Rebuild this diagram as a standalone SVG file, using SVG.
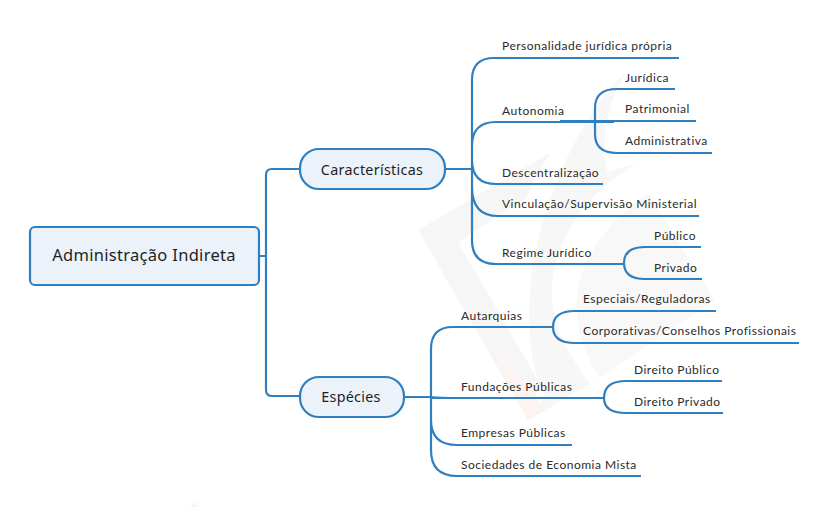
<svg xmlns="http://www.w3.org/2000/svg" width="830" height="507" viewBox="0 0 830 507">
<style>
text{font-family:"Noto Sans","Open Sans",sans-serif;fill:#1f1f1f}
.t{font-family:Lato,"Noto Sans",sans-serif;font-size:12px;letter-spacing:.49px;fill:#2a2a2a}
.c{fill:none;stroke:#2f7fc1;stroke-width:2.200}
.n{fill:#ebf2f9;stroke:#2f7fc1;stroke-width:2.200}
.u{stroke:#2f7fc1;stroke-width:2.200;fill:none}
</style>
<rect width="830" height="507" fill="#fff"/>
<g id="watermark">
<path d="M418 230 L550 153 C540 170 532 182 526 198 L458 242 L540 384 C535 395 532 408 528 420 Z" fill="#f6f6f6"/>
<path d="M625 73 C585 110 545 190 532 270 C526 320 530 370 545 395 L528 420 L590 384 C565 350 550 320 552 285 C556 235 590 190 637 163 L607 172 C600 130 610 100 625 73 Z" fill="#f7f7f7"/>
<path d="M648 193 L715 300 L590 384 L600 378 C575 340 570 300 585 265 C600 235 620 212 648 193 Z" fill="#f8f8f8"/>
<path d="M492 352 L528 420 L545 410 L520 380 Z" fill="#fdf3f1"/>
<path d="M190 507 L194 502 L199 507 Z" fill="#f6f6f6"/>
</g>
<g id="connectors">
<path class="c" d="M260 256H266M300 169H272Q266 169 266 175V390Q266 396 272 396H300"/>
<path class="c" d="M445 169H472M501 58H494Q472 58 472 80V240Q472 264 496 264H501M501 122H496Q472 122 472 146V160Q472 184 496 184H501M472 187Q472 216 498 216H501"/>
<path class="c" d="M405 397H431M460 327H453Q431 327 431 349V450Q431 476 457 476H460M431 397Q440 398 460 398M431 420Q431 445 457 445H460"/>
<path class="c" d="M595 121V108Q595 89 617 89H624M595 121V134Q595 153 617 153H624M560 121H595"/>
<path class="c" d="M624 263Q624 247 645 247H653M624 263Q624 279 645 279H653M594 264H624"/>
<path class="c" d="M553 327Q553 311 575 311H582M553 327Q553 343 575 343H582"/>
<path class="c" d="M604 398Q604 381 626 381H634M604 398Q604 413 626 413H634"/>
</g>
<g id="root"><rect class="n" x="30" y="227" width="229" height="58" rx="5"/><text x="144" y="261" text-anchor="middle" font-size="16.500" letter-spacing=".3">Administração Indireta</text></g>
<g id="caracteristicas"><rect class="n" x="300" y="149" width="145" height="40" rx="19"/><text x="372" y="175" text-anchor="middle" font-size="14.300" letter-spacing=".3">Características</text></g>
<g id="especies"><rect class="n" x="300" y="377" width="104" height="40" rx="19"/><text x="351" y="402" text-anchor="middle" font-size="14.300" letter-spacing=".3">Espécies</text></g>
<g id="n1"><path class="u" d="M494 58H679"/><text class="t" x="502" y="50">Personalidade jurídica própria</text></g>
<g id="n2"><path class="u" d="M496 122H614"/><text class="t" x="502" y="115">Autonomia</text></g>
<g id="n3"><path class="u" d="M617 89H675"/><text class="t" x="625" y="82">Jurídica</text></g>
<g id="n4"><path class="u" d="M595 121H696"/><text class="t" x="625" y="113">Patrimonial</text></g>
<g id="n5"><path class="u" d="M617 153H712"/><text class="t" x="625" y="145">Administrativa</text></g>
<g id="n6"><path class="u" d="M496 184H603"/><text class="t" x="502" y="177">Descentralização</text></g>
<g id="n7"><path class="u" d="M498 216H699"/><text class="t" x="502" y="208">Vinculação/Supervisão Ministerial</text></g>
<g id="n8"><path class="u" d="M496 264H594"/><text class="t" x="502" y="257">Regime Jurídico</text></g>
<g id="n9"><path class="u" d="M645 247H701"/><text class="t" x="654" y="240">Público</text></g>
<g id="n10"><path class="u" d="M645 279H702"/><text class="t" x="654" y="272">Privado</text></g>
<g id="n11"><path class="u" d="M453 327H553"/><text class="t" x="461" y="320">Autarquias</text></g>
<g id="n12"><path class="u" d="M575 311H716"/><text class="t" x="583" y="303">Especiais/Reguladoras</text></g>
<g id="n13"><path class="u" d="M575 343H799"/><text class="t" x="583" y="335">Corporativas/Conselhos Profissionais</text></g>
<g id="n14"><path class="u" d="M431 398H604"/><text class="t" x="461" y="391">Fundações Públicas</text></g>
<g id="n15"><path class="u" d="M626 381H722"/><text class="t" x="634" y="374">Direito Público</text></g>
<g id="n16"><path class="u" d="M626 413H723"/><text class="t" x="634" y="406">Direito Privado</text></g>
<g id="n17"><path class="u" d="M457 445H572"/><text class="t" x="461" y="437">Empresas Públicas</text></g>
<g id="n18"><path class="u" d="M457 476H641"/><text class="t" x="461" y="469">Sociedades de Economia Mista</text></g>
</svg>
